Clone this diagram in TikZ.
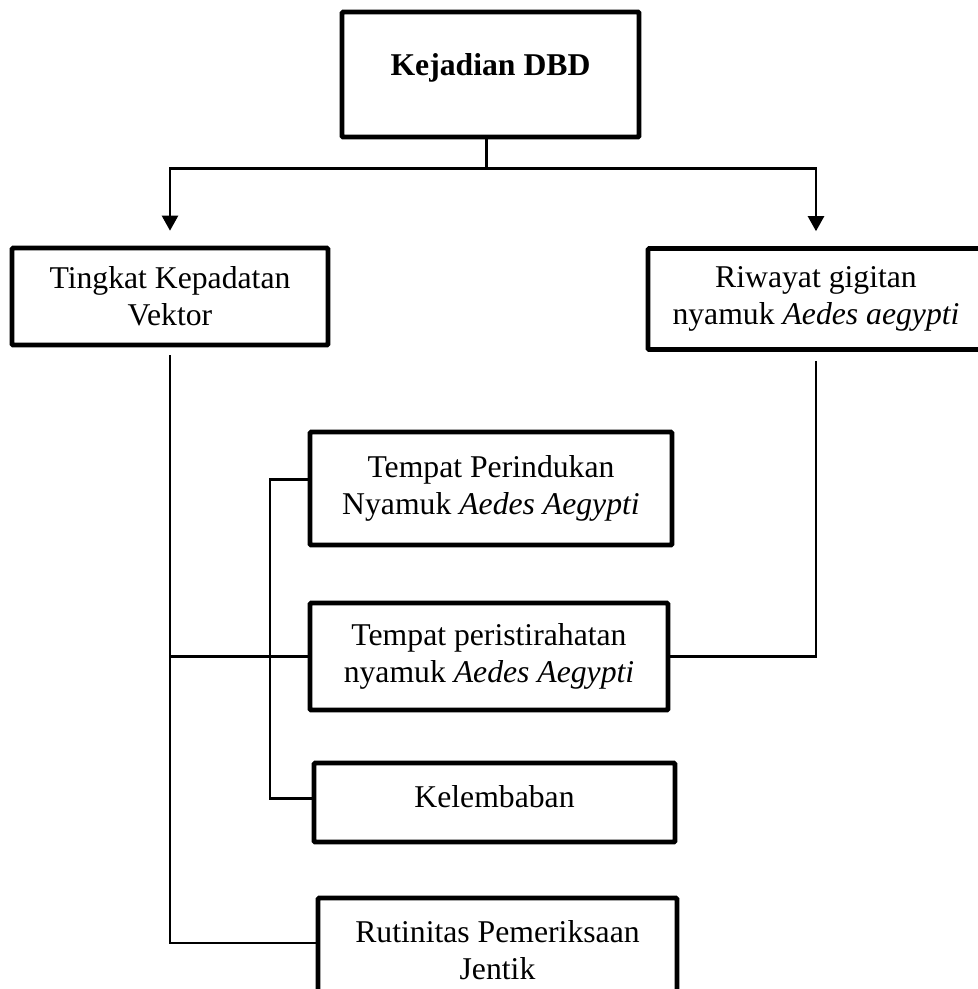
\documentclass[tikz,border=0pt]{standalone}
\usepackage{fontspec}
\setmainfont{Liberation Serif}
\usetikzlibrary{arrows.meta}
\tikzset{
  box/.style={draw, line width=4.6pt, rectangle, align=center, inner sep=0pt,
    font=\fontsize{31.7pt}{37pt}\selectfont, rounded corners=1pt},
  conn/.style={line width=2.4pt},
  arr/.style={line width=2.4pt, -{Triangle[length=15pt,width=16pt]}},
}
\begin{document}
\begin{tikzpicture}[x=1pt,y=-1pt]
\useasboundingbox (0,0) rectangle (978,989);
\clip (0,0) rectangle (978,989);
\node[box, minimum width=297pt, minimum height=125pt] (top) at (490.5,74.5)
  {\raisebox{20pt}{\textbf{Kejadian DBD}}};
\node[box, minimum width=316pt, minimum height=97pt] (left) at (170,296.5)
  {Tingkat Kepadatan\\Vektor};
\node[box, minimum width=336pt, minimum height=101pt] (right) at (816,299)
  {Riwayat gigitan\\nyamuk \textit{Aedes aegypti}};
\node[box, minimum width=362pt, minimum height=113pt] (tp) at (491,488.5)
  {Tempat Perindukan\\Nyamuk \textit{Aedes Aegypti}};
\node[box, minimum width=358pt, minimum height=107pt] (tr) at (489,656.5)
  {Tempat peristirahatan\\nyamuk \textit{Aedes Aegypti}};
\node[box, minimum width=361pt, minimum height=79pt] (kel) at (494.5,802.5)
  {\raisebox{12pt}{Kelembaban}};
\node[box, minimum width=359pt, minimum height=104pt] (rut) at (497.5,950)
  {Rutinitas Pemeriksaan\\Jentik};
% top connectors
\draw[arr] ([xshift=-4pt]top.south) -- ++(0,29) -| ([yshift=15pt]left.north);
\draw[arr] ([xshift=-4pt]top.south) -- ++(0,29) -| ([yshift=15pt]right.north);
% left tree
\draw[conn] ([yshift=-8pt]left.south) |- ([yshift=7pt]rut.west);
\draw[conn] (left.south |- tr.west) -- (tr.west);
\draw[conn] ([yshift=9pt]tp.west) -- ++(-38,0) |- ([yshift=4pt]kel.west);
% right
\draw[conn] ([yshift=-9pt]right.south) |- (tr.east);
\end{tikzpicture}
\end{document}
